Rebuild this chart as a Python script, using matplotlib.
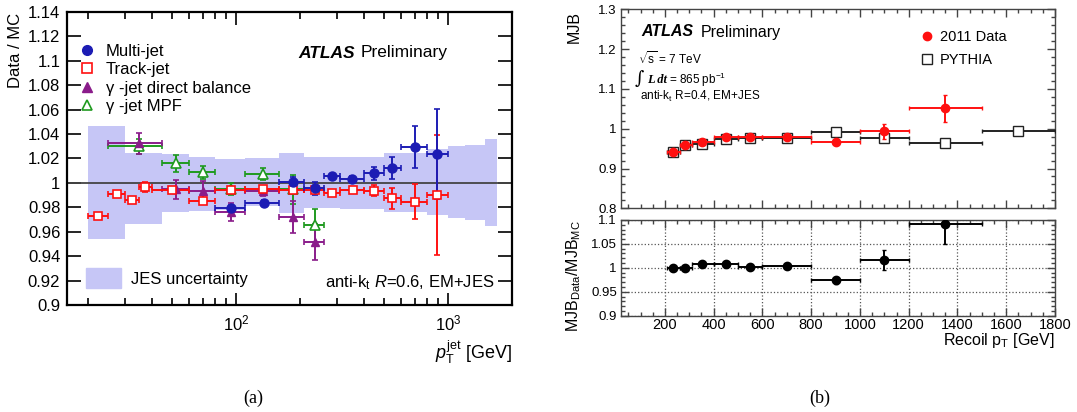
import numpy as np
import matplotlib
matplotlib.use('Agg')
import matplotlib.pyplot as plt
from matplotlib.patches import Patch
from matplotlib.lines import Line2D
from matplotlib.ticker import MultipleLocator, LogLocator, NullFormatter

plt.rcParams['font.family'] = ['Liberation Sans', 'DejaVu Sans']
plt.rcParams['mathtext.fontset'] = 'custom'
plt.rcParams['mathtext.rm'] = 'Liberation Sans'
plt.rcParams['mathtext.it'] = 'Liberation Sans:italic'
plt.rcParams['mathtext.bf'] = 'Liberation Sans:bold'

# ---------------- (a) data / MC ----------------
jes_edges = [20, 30, 45, 60, 80, 110, 160, 210, 310, 500, 800, 1000, 1200, 1500, 1700]
jes_up = [1.0467, 1.0246, 1.0235, 1.021, 1.0194, 1.0205, 1.0246, 1.0213, 1.0213,
          1.0246, 1.0274, 1.0303, 1.031, 1.0356]
jes_dn = [0.9538, 0.9665, 0.9758, 0.977, 0.978, 0.981, 0.9754, 0.9793, 0.9784,
          0.9762, 0.974, 0.9716, 0.9694, 0.9645]

mj_pt = [95, 135, 185, 235, 284, 353, 449, 546, 696, 893]
mj_lo = [80, 110, 160, 210, 260, 310, 400, 500, 600, 800]
mj_hi = [110, 160, 210, 260, 310, 400, 500, 600, 800, 1000]
mj_val = [0.9795, 0.9836, 1.0008, 0.9954, 1.0055, 1.0033, 1.0077, 1.0118, 1.0295, 1.0235]
mj_err = [0.002, 0.002, 0.004, 0.0055, 0.002, 0.002, 0.0055, 0.009, 0.017, 0.037]

tj_pt = [22.4, 27.4, 32.4, 37.4, 49.8, 70, 95, 134, 185, 235, 285, 355, 449, 546, 696, 893]
tj_lo = [20, 25, 30, 35, 40, 60, 80, 110, 160, 210, 260, 310, 400, 500, 600, 800]
tj_hi = [25, 30, 35, 40, 60, 80, 110, 160, 210, 260, 310, 400, 500, 600, 800, 1000]
tj_val = [0.9727, 0.991, 0.9858, 0.9967, 0.994, 0.985, 0.9945, 0.9946, 0.9943, 0.994,
          0.9913, 0.9938, 0.9935, 0.9875, 0.9845, 0.990]
tj_err = [0.001, 0.001, 0.0015, 0.004, 0.002, 0.002, 0.002, 0.002, 0.002, 0.002,
          0.002, 0.002, 0.0045, 0.0085, 0.0143, 0.049]

gdb_pt = [34.9, 52.4, 70, 95, 134, 185, 235]
gdb_lo = [25, 45, 60, 80, 110, 160, 210]
gdb_hi = [45, 60, 80, 110, 160, 210, 260]
gdb_val = [1.0323, 0.9946, 0.9935, 0.9763, 0.9935, 0.972, 0.9516]
gdb_err = [0.0089, 0.008, 0.008, 0.0075, 0.004, 0.013, 0.015]

mpf_pt = [34.9, 52.4, 70, 95, 134, 185, 235]
mpf_lo = [25, 45, 60, 80, 110, 160, 210]
mpf_hi = [45, 60, 80, 110, 160, 210, 260]
mpf_val = [1.030, 1.0159, 1.0085, 0.9951, 1.0071, 0.9946, 0.9653]
mpf_err = [0.006, 0.0066, 0.005, 0.005, 0.005, 0.0116, 0.0137]

# ---------------- (b) MJB ----------------
mjb_pt = [233, 284, 354, 450, 549, 699, 900, 1100, 1350, 1650]
mjb_lo = [210, 260, 310, 400, 500, 600, 800, 1000, 1200, 1500]
mjb_hi = [260, 310, 400, 500, 600, 800, 1000, 1200, 1500, 1800]
data_mjb = [0.9425, 0.958, 0.9675, 0.980, 0.9795, 0.9795, 0.9667, 0.994, 1.0508]
data_err = [0.003, 0.003, 0.003, 0.003, 0.003, 0.003, 0.003, 0.019, 0.035]
mc_mjb = [0.9425, 0.958, 0.9617, 0.973, 0.9775, 0.9775, 0.9925, 0.9775, 0.963, 0.995]
ratio = [1.000, 0.9995, 1.0071, 1.0084, 1.002, 1.003, 0.9736, 1.016, 1.0907]
ratio_err = [0.003, 0.005, 0.003, 0.003, 0.003, 0.003, 0.0065, 0.021, 0.04]

W, H = 1077, 412
fig = plt.figure(figsize=(W / 100, H / 100), dpi=100)


def fx(px):
    return px / W


def fy(py):
    return 1 - py / H


def xerrs(pt, lo, hi, n=None):
    pt = np.array(pt[:n], float)
    return [pt - np.array(lo[:n]), np.array(hi[:n]) - pt]


# ----- left panel -----
ax = fig.add_axes([fx(67.3), fy(305), fx(444.4), 293.1 / H])
ax.set_xscale('log')
ax.set_xlim(16, 2000)
ax.set_ylim(0.9, 1.14)

band_c = '#c6c6f6'
ax.fill_between(jes_edges, jes_dn + [jes_dn[-1]], jes_up + [jes_up[-1]],
                step='post', color=band_c, lw=0, zorder=1)
ax.axhline(1.0, color='#444444', lw=1.3, zorder=2)

ebk = dict(ls='none', elinewidth=1.4, capsize=2, capthick=1.2, zorder=4)
c_mj, c_tj, c_gdb, c_mpf = '#1c1cb4', '#ff1010', '#8a1c8a', '#1f9a1f'
ax.errorbar(mpf_pt, mpf_val, yerr=mpf_err, xerr=xerrs(mpf_pt, mpf_lo, mpf_hi),
            marker='^', ms=7, mfc='white', mec=c_mpf, mew=1.2, color=c_mpf, **ebk)
ax.errorbar(gdb_pt, gdb_val, yerr=gdb_err, xerr=xerrs(gdb_pt, gdb_lo, gdb_hi),
            marker='^', ms=6, mfc=c_gdb, mec=c_gdb, color=c_gdb, **ebk)
ax.errorbar(tj_pt, tj_val, yerr=tj_err, xerr=xerrs(tj_pt, tj_lo, tj_hi),
            marker='s', ms=6, mfc='white', mec=c_tj, mew=1.2, color=c_tj, **ebk)
ax.errorbar(mj_pt, mj_val, yerr=mj_err, xerr=xerrs(mj_pt, mj_lo, mj_hi),
            marker='o', ms=6.5, mfc=c_mj, mec=c_mj, color=c_mj, **ebk)

ax.set_yticks(np.arange(0.9, 1.1401, 0.02))
ax.set_yticklabels(['0.9', '0.92', '0.94', '0.96', '0.98', '1', '1.02', '1.04',
                    '1.06', '1.08', '1.1', '1.12', '1.14'])
ax.xaxis.set_major_locator(LogLocator(base=10))
ax.xaxis.set_minor_locator(LogLocator(base=10, subs=np.arange(2, 10)))
ax.xaxis.set_minor_formatter(NullFormatter())
ax.tick_params(axis='both', which='both', direction='in', top=True, right=True,
               labelsize=12, width=1.2)
ax.tick_params(axis='y', which='major', length=10, pad=5)
ax.tick_params(axis='x', which='major', length=9, pad=6)
ax.tick_params(axis='x', which='minor', length=5)
for s in ax.spines.values():
    s.set_linewidth(1.6)

ax.set_ylabel('Data / MC', fontsize=12, loc='top')
ax.yaxis.set_label_coords(-0.1, 0.995)
ax.set_xlabel(r'$p_{\mathrm{T}}^{\mathrm{jet}}$ [GeV]', fontsize=13, loc='right')
ax.xaxis.set_label_coords(1.0, -0.115)

h = [Line2D([], [], ls='none', marker='o', ms=7, mfc=c_mj, mec=c_mj),
     Line2D([], [], ls='none', marker='s', ms=7, mfc='white', mec=c_tj, mew=1.2),
     Line2D([], [], ls='none', marker='^', ms=7, mfc=c_gdb, mec=c_gdb),
     Line2D([], [], ls='none', marker='^', ms=7, mfc='white', mec=c_mpf, mew=1.2)]
leg = ax.legend(h, ['Multi-jet', 'Track-jet', 'γ -jet direct balance', 'γ -jet MPF'],
                loc='upper left', bbox_to_anchor=(0.0, 0.925), frameon=False,
                fontsize=12, handlelength=1.2, handletextpad=0.5, labelspacing=0.2,
                borderaxespad=0.2)
ax.add_artist(leg)
ax.legend([Patch(color=band_c)], ['JES uncertainty'], loc='lower left',
          bbox_to_anchor=(0.02, 0.025), frameon=False, fontsize=12,
          handlelength=2.1, handleheight=1.4, handletextpad=0.6, borderaxespad=0.2)

fig.text(fx(298), fy(53), 'ATLAS', fontsize=12.5, fontweight='bold', fontstyle='italic',
         va='center', ha='left')
fig.text(fx(361), fy(53), 'Preliminary', fontsize=12.5, va='center', ha='left')
fig.text(fx(495), fy(283), r'anti-k$_{\mathrm{t}}$ $\mathit{R}$=0.6, EM+JES', fontsize=12,
         va='center', ha='right')

fig.text(fx(253), fy(398), '(a)', fontsize=13, family='Liberation Serif', ha='center', va='center')
fig.text(fx(820), fy(398), '(b)', fontsize=13, family='Liberation Serif', ha='center', va='center')

# ----- right panels -----
spc = '#444444'
axt = fig.add_axes([fx(621), fy(208.3), fx(434), 199 / H])
axb = fig.add_axes([fx(621), fy(315.7), fx(434), 95.7 / H], sharex=axt)
axt.set_xlim(20, 1800)
axt.set_ylim(0.8, 1.3)
axb.set_ylim(0.9, 1.1)

axt.errorbar(mjb_pt, mc_mjb, xerr=xerrs(mjb_pt, mjb_lo, mjb_hi), ls='none',
             marker='s', ms=7, mfc='white', mec='#222222', mew=1.0, color='#222222',
             elinewidth=1.4, capsize=1.5, zorder=3)
axt.errorbar(mjb_pt[:9], data_mjb, yerr=data_err, xerr=xerrs(mjb_pt, mjb_lo, mjb_hi, 9),
             ls='none', marker='o', ms=6, mfc='#ff1010', mec='#ff1010', color='#ff1010',
             elinewidth=1.4, capsize=1.5, zorder=4)
axb.errorbar(mjb_pt[:9], ratio, yerr=ratio_err, xerr=xerrs(mjb_pt, mjb_lo, mjb_hi, 9),
             ls='none', marker='o', ms=6, color='black', elinewidth=1.4, capsize=1.5,
             zorder=4)

for a in (axt, axb):
    a.xaxis.set_major_locator(MultipleLocator(200))
    a.xaxis.set_minor_locator(MultipleLocator(50))
    a.tick_params(axis='both', which='both', direction='in', top=True, right=True,
                  color=spc, width=1.0)
    a.tick_params(axis='both', which='major', length=6)
    a.tick_params(axis='both', which='minor', length=3)
    a.tick_params(axis='y', labelsize=9.5, pad=3)
    a.tick_params(axis='x', labelsize=10.5, pad=2)
    for s in a.spines.values():
        s.set_color(spc)
        s.set_linewidth(1.0)
axt.yaxis.set_minor_locator(MultipleLocator(0.02))
axt.set_yticks([0.8, 0.9, 1.0, 1.1, 1.2, 1.3])
axt.set_yticklabels(['0.8', '0.9', '1', '1.1', '1.2', '1.3'])
axt.tick_params(axis='x', labelbottom=False)
axb.set_yticks([0.9, 0.95, 1.0, 1.05, 1.1])
axb.set_yticklabels(['0.9', '0.95', '1', '1.05', '1.1'])
axb.yaxis.set_minor_locator(MultipleLocator(0.01))
axb.set_xticks([200, 400, 600, 800, 1000, 1200, 1400, 1600, 1800])
axb.grid(True, which='major', ls=':', color='#555555', lw=0.9)
axb.set_axisbelow(True)

axt.set_ylabel('MJB', fontsize=11.5, loc='top')
axt.yaxis.set_label_coords(-0.09, 0.99)
axb.set_ylabel(r'MJB$_{\mathrm{Data}}$/MJB$_{\mathrm{MC}}$', fontsize=11.5, loc='top')
axb.yaxis.set_label_coords(-0.088, 1.0)
axb.set_xlabel(r'Recoil p$_{\mathrm{T}}$ [GeV]', fontsize=11.5, loc='right')
axb.xaxis.set_label_coords(1.0, -0.165)

fig.text(fx(641.7), fy(32), 'ATLAS', fontsize=11.5, fontweight='bold', fontstyle='italic',
         va='center', ha='left')
fig.text(fx(701), fy(32), 'Preliminary', fontsize=11.5, va='center', ha='left')
fig.text(fx(637.5), fy(59), r'$\sqrt{\mathrm{s}}$ = 7 TeV', fontsize=8.5, va='center', ha='left')
fig.text(fx(635), fy(79), '∫', fontsize=13, va='center', ha='left', family='DejaVu Serif')
fig.text(fx(647), fy(80), 'L dt', fontsize=9, fontweight='bold', fontstyle='italic',
         family='Liberation Serif', va='center', ha='left')
fig.text(fx(669), fy(80), r'= 865 pb$^{-1}$', fontsize=8.5, va='center', ha='left')
fig.text(fx(640), fy(96.5), r'anti-k$_{\mathrm{t}}$ R=0.4, EM+JES', fontsize=8.5,
         va='center', ha='left')

h2 = [Line2D([], [], ls='none', marker='o', ms=6, mfc='#ff1010', mec='#ff1010'),
      Line2D([], [], ls='none', marker='s', ms=7, mfc='white', mec='#222222')]
axt.legend(h2, ['2011 Data', 'PYTHIA'], loc='upper left', bbox_to_anchor=(0.675, 0.925),
           frameon=False, fontsize=10.5, handlelength=1.0, handletextpad=0.4,
           labelspacing=0.6, borderaxespad=0)

fig.savefig('out.png', dpi=100)
